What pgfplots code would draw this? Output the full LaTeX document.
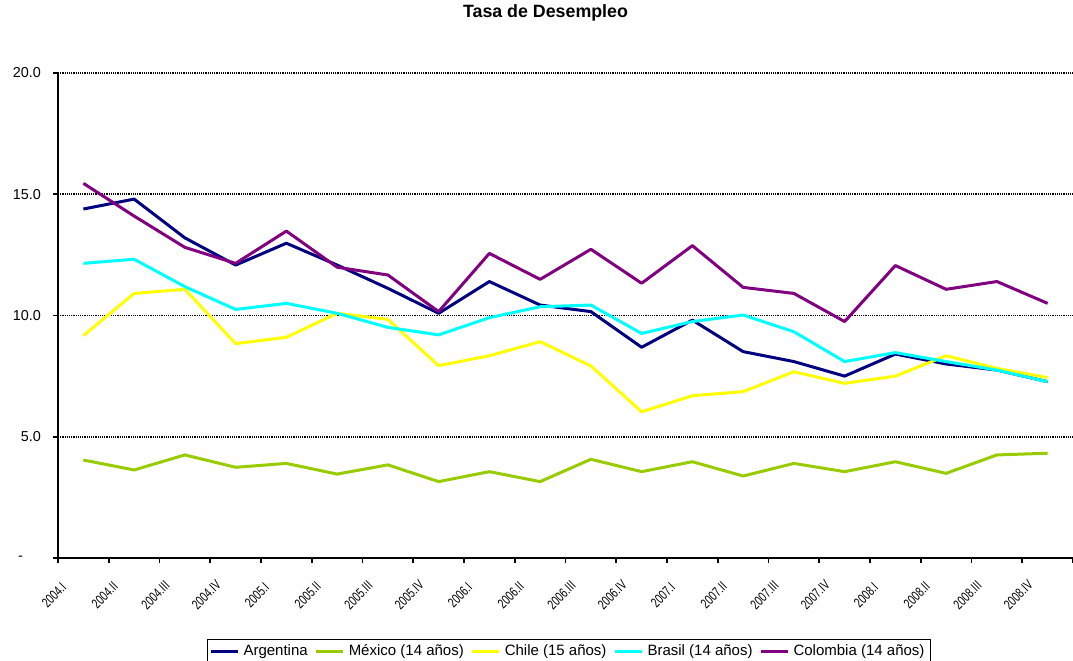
\documentclass[border=0pt]{standalone}
\usepackage{fontspec}
\setmainfont{Liberation Sans}
\usepackage{pgfplots}
\pgfplotsset{compat=1.18}
\definecolor{cArg}{RGB}{0,0,128}
\definecolor{cMex}{RGB}{153,204,0}
\definecolor{cChi}{RGB}{255,255,0}
\definecolor{cBra}{RGB}{0,255,255}
\definecolor{cCol}{RGB}{128,0,128}
\begin{document}
\begin{tikzpicture}
\begin{axis}[
    scale only axis, width=507.5pt, height=242.5pt,
    xmin=-0.5, xmax=19.5, ymin=0, ymax=20,
    axis x line=bottom, axis y line=left,
    axis line style={-, line width=1pt},
    tick style={black, line width=0.8pt},
    tick align=outside, major tick length=2.5pt,
    xtick={-0.5,0.5,...,19.5},
    xticklabels={2004.I,2004.II,2004.III,2004.IV,2005.I,2005.II,2005.III,2005.IV,
        2006.I,2006.II,2006.III,2006.IV,2007.I,2007.II,2007.III,2007.IV,
        2008.I,2008.II,2008.III,2008.IV,{}},
    xticklabel style={font=\fontsize{6.9}{7}\selectfont, inner sep=0pt, xshift=-2pt, yshift=-16pt, rotate=45, xscale=0.72, anchor=center},
    ytick={0,5,10,15,20},
    yticklabels={-\kern9pt,5.0,10.0,15.0,20.0},
    yticklabel style={font=\fontsize{7.2}{8}\selectfont, xshift=-2.5pt},
    ymajorgrids,
    major grid style={black, line width=0.9pt, dash pattern=on 0.6pt off 0.5pt},
    title={\bfseries Tasa de Desempleo},
    title style={font=\fontsize{8.9}{10}\selectfont, at={(axis description cs:0.5,1)}, anchor=center, yshift=24pt, xshift=-10pt},
    legend style={at={(axis description cs:0.5,0)}, anchor=north, yshift=-40.5pt, xshift=1.75pt,
        draw=black, line width=0.75pt, font=\fontsize{7.5}{9}\selectfont,
        inner xsep=1pt, inner ysep=0.5pt,
        /tikz/every even column/.append style={column sep=1.5pt}},
    legend columns=-1,
    legend image code/.code={\draw[#1, line width=1.5pt] (0pt,0pt) -- (13.5pt,0pt);},
    every axis plot/.append style={line width=1.5pt, line join=round, mark=none},
]
\addplot[cArg] coordinates {
    (0,14.39) (1,14.80) (2,13.20) (3,12.08) (4,12.98) (5,12.08) (6,11.12) (7,10.09)
    (8,11.40) (9,10.43) (10,10.16) (11,8.69) (12,9.81) (13,8.51) (14,8.10) (15,7.50)
    (16,8.41) (17,8.00) (18,7.75) (19,7.27)};
\addlegendentry{Argentina}
\addplot[cMex] coordinates {
    (0,4.04) (1,3.63) (2,4.25) (3,3.74) (4,3.90) (5,3.46) (6,3.84) (7,3.15)
    (8,3.56) (9,3.15) (10,4.07) (11,3.56) (12,3.97) (13,3.38) (14,3.90) (15,3.56)
    (16,3.97) (17,3.49) (18,4.25) (19,4.32)};
\addlegendentry{México (14 años)}
\addplot[cChi] coordinates {
    (0,9.17) (1,10.91) (2,11.08) (3,8.84) (4,9.10) (5,10.09) (6,9.84) (7,7.93)
    (8,8.34) (9,8.92) (10,7.92) (11,6.03) (12,6.69) (13,6.86) (14,7.68) (15,7.20)
    (16,7.50) (17,8.34) (18,7.82) (19,7.44)};
\addlegendentry{Chile (15 años)}
\addplot[cBra] coordinates {
    (0,12.15) (1,12.32) (2,11.19) (3,10.25) (4,10.50) (5,10.09) (6,9.51) (7,9.20)
    (8,9.91) (9,10.36) (10,10.43) (11,9.26) (12,9.75) (13,10.02) (14,9.33) (15,8.10)
    (16,8.47) (17,8.10) (18,7.75) (19,7.27)};
\addlegendentry{Brasil (14 años)}
\addplot[cCol] coordinates {
    (0,15.45) (1,14.10) (2,12.81) (3,12.15) (4,13.48) (5,11.99) (6,11.67) (7,10.16)
    (8,12.56) (9,11.49) (10,12.73) (11,11.33) (12,12.88) (13,11.16) (14,10.91) (15,9.75)
    (16,12.06) (17,11.08) (18,11.40) (19,10.50)};
\addlegendentry{Colombia (14 años)}
\end{axis}
\pgfresetboundingbox
\path ([xshift=-29pt, yshift=-51.5pt]current axis.south west) rectangle ([yshift=36.5pt]current axis.north east);
\end{tikzpicture}
\end{document}
